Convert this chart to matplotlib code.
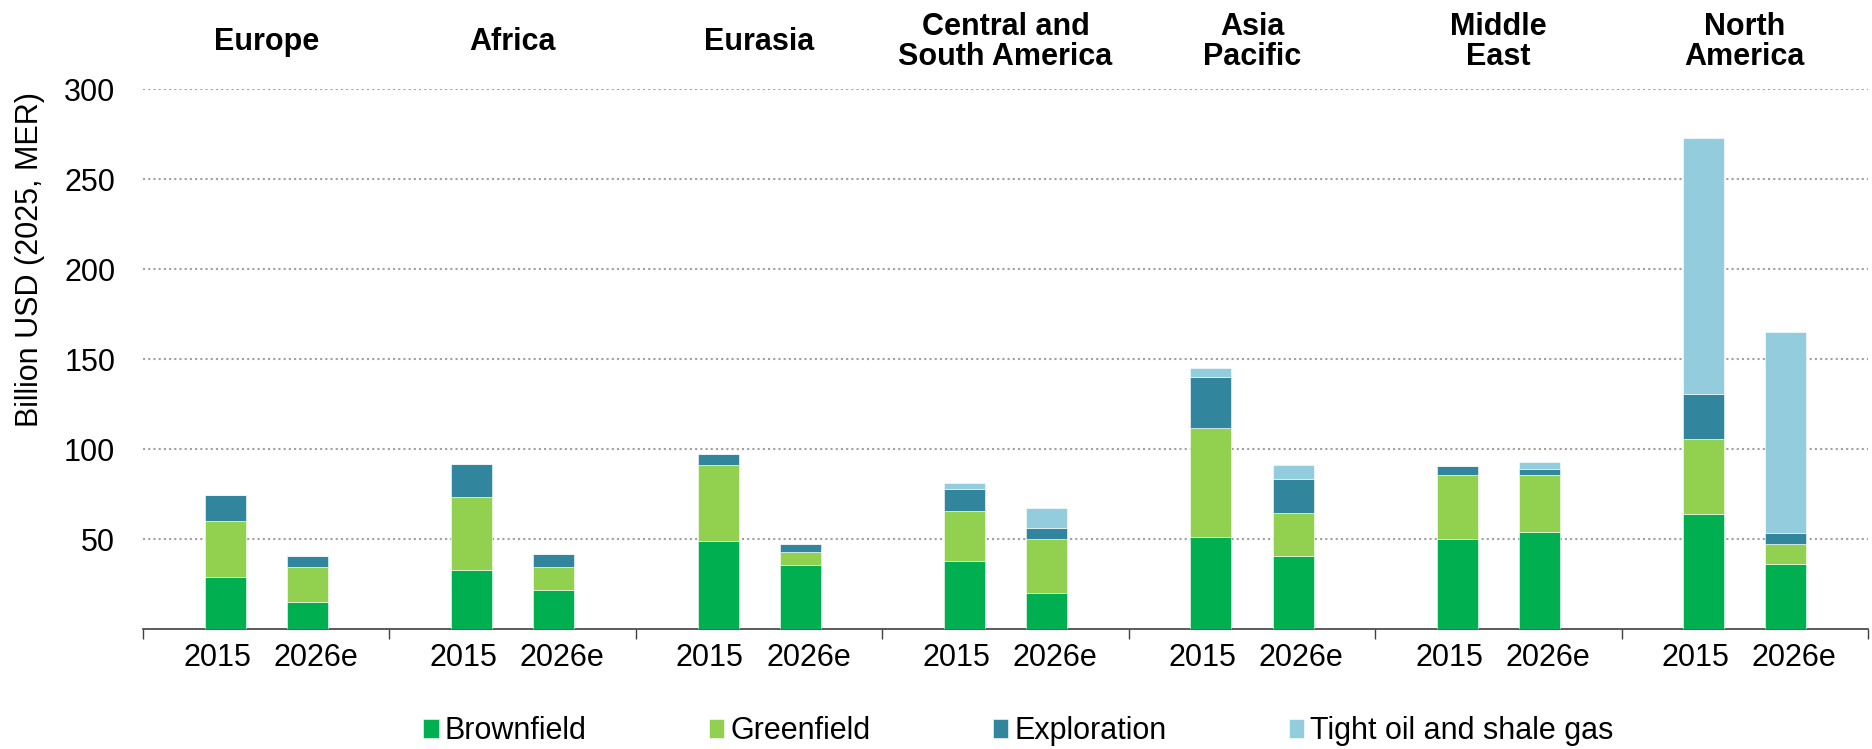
import numpy as np
import matplotlib.pyplot as plt
import matplotlib.transforms as mtransforms

plt.rcParams['font.family'] = ['Liberation Sans', 'DejaVu Sans']

# Data (billion USD, 2025 MER)
regions = ['Europe', 'Africa', 'Eurasia', 'Central and\nSouth America',
           'Asia\nPacific', 'Middle\nEast', 'North\nAmerica']
years = ['2015', '2026e']
series = ['Brownfield', 'Greenfield', 'Exploration', 'Tight oil and shale gas']
colors = ['#00AF50', '#92D050', '#31859C', '#93CDDD']

# values per region: [2015, 2026e]
brownfield = [[29.0, 15.4], [33.1, 22.0], [49.3, 36.0], [37.8, 19.9],
              [51.4, 40.9], [50.3, 53.8], [64.3, 36.2]]
greenfield = [[31.4, 19.1], [40.5, 12.5], [42.1, 6.9], [27.7, 30.0],
              [60.6, 23.6], [35.6, 32.1], [41.5, 11.1]]
exploration = [[14.2, 6.0], [18.2, 7.4], [6.2, 4.4], [12.6, 6.6],
               [28.3, 18.9], [4.9, 2.9], [25.1, 6.3]]
tight = [[0, 0], [0, 0], [0, 0], [3.3, 11.1],
         [4.8, 7.8], [0, 4.1], [142.2, 111.6]]

fig = plt.figure(figsize=(18.72, 7.49), dpi=100)
ax = fig.add_axes([0.0764, 0.1598, 0.9215, 0.721])

n = len(regions)
offsets = [-1 / 6, 1 / 6]
label_offsets = [-0.2, 0.2]
width = 1 / 6
xpos = []
xlab = []
for j, yr in enumerate(years):
    x = np.arange(n) + offsets[j]
    bottom = np.zeros(n)
    for k, data in enumerate([brownfield, greenfield, exploration, tight]):
        vals = np.array([d[j] for d in data])
        ax.bar(x, vals, width, bottom=bottom, color=colors[k],
               edgecolor='white', linewidth=0.4,
               label=series[k] if j == 0 else None, zorder=3)
        bottom += vals
    xpos += list(np.arange(n) + label_offsets[j])
    xlab += [yr] * n

ax.set_xlim(-0.5, n - 0.5)
ax.set_ylim(0, 300)
ax.set_yticks([50, 100, 150, 200, 250, 300])
ax.set_xticks(xpos)
ax.set_xticklabels(xlab)
# group separators below the axis
ax.set_xticks(np.arange(n + 1) - 0.5, minor=True)
ax.tick_params(axis='x', which='major', length=0, pad=10, labelsize=22)
ax.tick_params(axis='x', which='minor', length=7, width=1, color='#404040')
ax.tick_params(axis='y', length=0, pad=20, labelsize=22)

for s in ['top', 'right', 'left']:
    ax.spines[s].set_visible(False)
ax.spines['bottom'].set_color('#404040')
ax.spines['bottom'].set_linewidth(1.2)

ax.yaxis.grid(True, color='#a0a0a0', linestyle=(0, (1, 1.5)), linewidth=1.5)
ax.set_axisbelow(True)

# Region headers
trans = mtransforms.blended_transform_factory(ax.transData, fig.transFigure)
for i, r in enumerate(regions):
    ax.text(i, 0.944, r, transform=trans, ha='center', va='center',
            fontsize=22, fontweight='bold', linespacing=1.0)

fig.text(30 / 1872, 1 - 260 / 749, 'Billion USD (2025, MER)', rotation=90,
         ha='center', va='center', fontsize=22)

fig.legend(loc='center', bbox_to_anchor=(0.544, 0.024), ncol=4, frameon=False,
           fontsize=22, handlelength=0.5, handleheight=0.56, handletextpad=0.2,
           columnspacing=4.0)

fig.savefig('out.png', dpi=100)
